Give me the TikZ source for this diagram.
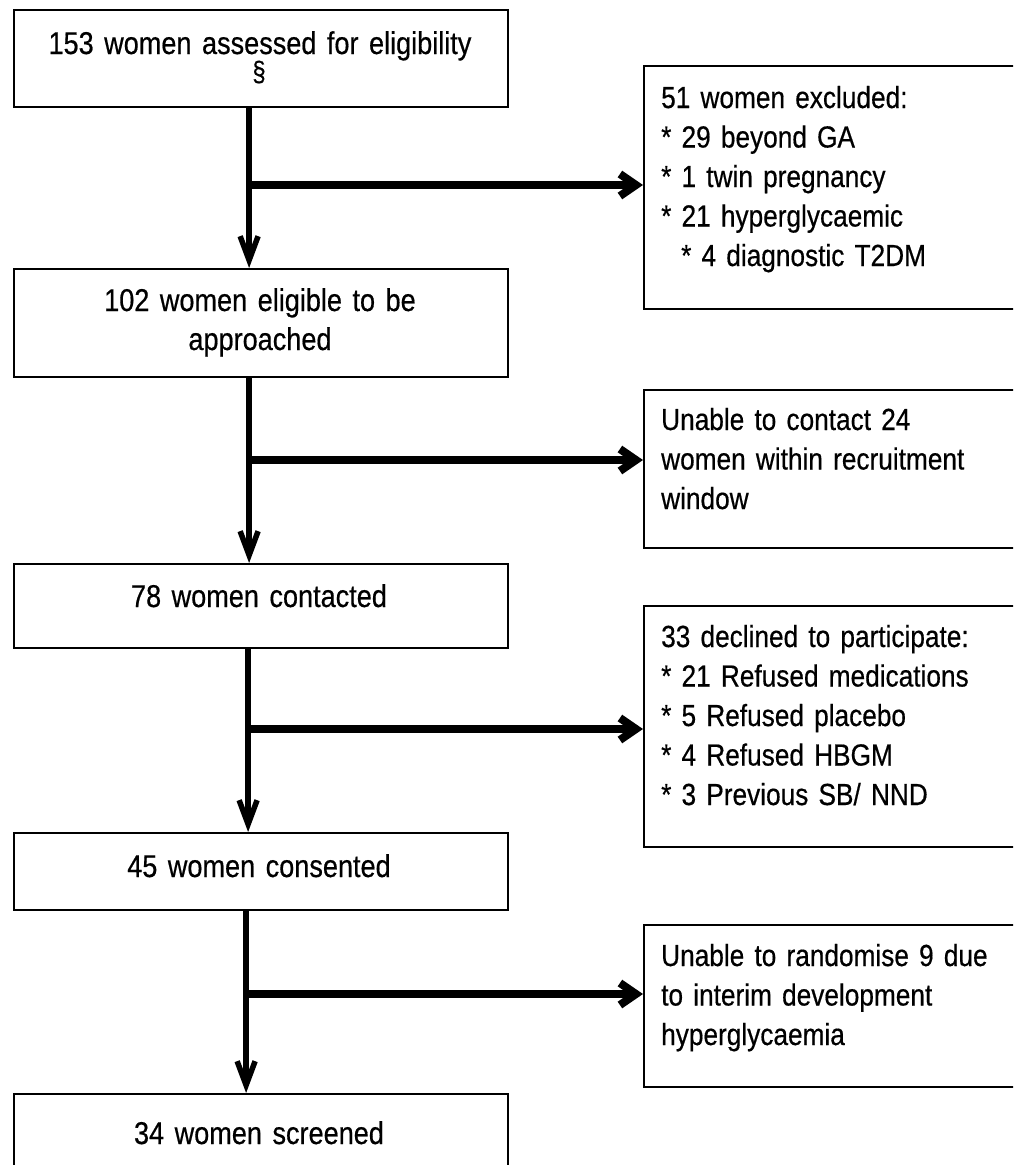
\documentclass[tikz,border=0pt]{standalone}
\usepackage{fontspec}
\setmainfont{Liberation Sans}[FakeStretch=0.86,FakeBold=0.5,WordSpace=0.85]
\usetikzlibrary{arrows.meta}
\begin{document}
\begin{tikzpicture}[x=1pt,y=-1pt,
  box/.style={draw=black, line width=2.2pt, rectangle, inner sep=0pt, anchor=north west},
  lbox/.style={box, minimum width=494pt},
  rbox/.style={box, minimum width=387pt},
  ltext/.style={anchor=base, inner sep=0pt, font=\fontsize{31.5}{39}\selectfont, align=center, text width=480pt},
  rtext/.style={anchor=base west, inner sep=0pt, font=\fontsize{30.5}{39.5}\selectfont, align=left, text width=350pt},
  vline/.style={line width=5.5pt, -{Straight Barb[length=24pt,width=18pt]}},
  hline/.style={line width=8pt, -{Straight Barb[length=16pt,width=22pt]}},
]
\useasboundingbox (0,0) rectangle (1013,1165);
\clip (0,0) rectangle (1013,1165);

% left column boxes
\node[lbox, minimum height=97pt]  (b1) at (13,9) {};
\node[lbox, minimum height=108pt] (b2) at (13,268) {};
\node[lbox, minimum height=84pt]  (b3) at (13,563) {};
\node[lbox, minimum height=77pt]  (b4) at (13,832) {};
\node[lbox, minimum height=92pt]  (b5) at (13,1093) {};

% right column boxes
\node[rbox, minimum height=243pt] (r1) at (643,65) {};
\node[rbox, minimum height=158pt] (r2) at (643,389) {};
\node[rbox, minimum height=241pt] (r3) at (643,605) {};
\node[rbox, minimum height=162pt] (r4) at (643,924) {};

% left texts
\node[ltext, font=\fontsize{31.5}{39}\selectfont] (t1) at (260,54) {153 women assessed for eligibility};
\node[ltext, font=\fontsize{28}{32}\selectfont] (s1) at (259,81) {\S};
\node[ltext] (t2) at (260,311) {102 women eligible to be\\approached};
\node[ltext] (t3) at (259,607) {78 women contacted};
\node[ltext] (t4) at (259,877) {45 women consented};
\node[ltext] (t5) at (259,1144) {34 women screened};

% right texts
\node[rtext] (u1) at (661,108) {51 women excluded:\\{*} 29 beyond GA\\{*} 1 twin pregnancy\\{*} 21 hyperglycaemic\\\hspace*{20pt}{*} 4 diagnostic T2DM};
\node[rtext] (u2) at (661,430) {Unable to contact 24\\women within recruitment\\window};
\node[rtext] (u3) at (661,647) {33 declined to participate:\\{*} 21 Refused medications\\{*} 5 Refused placebo\\{*} 4 Refused HBGM\\{*} 3 Previous SB/ NND};
\node[rtext] (u4) at (661,966) {Unable to randomise 9 due\\to interim development\\hyperglycaemia};

% vertical flow
\draw[vline] ([xshift=-12pt]b1.south) -- ([xshift=-12pt]b2.north);
\draw[vline] ([xshift=-12pt]b2.south) -- ([xshift=-12pt]b3.north);
\draw[vline] ([xshift=-13pt]b3.south) -- ([xshift=-13pt]b4.north);
\draw[vline] ([xshift=-15pt]b4.south) -- ([xshift=-15pt]b5.north);

% branches
\coordinate (j1) at (248,185);
\coordinate (j2) at (248,460);
\coordinate (j3) at (247,729);
\coordinate (j4) at (245,994);
\draw[hline] (j1) -- (j1 -| r1.west);
\draw[hline] (j2) -- (j2 -| r2.west);
\draw[hline] (j3) -- (j3 -| r3.west);
\draw[hline] (j4) -- (j4 -| r4.west);
\end{tikzpicture}
\end{document}
